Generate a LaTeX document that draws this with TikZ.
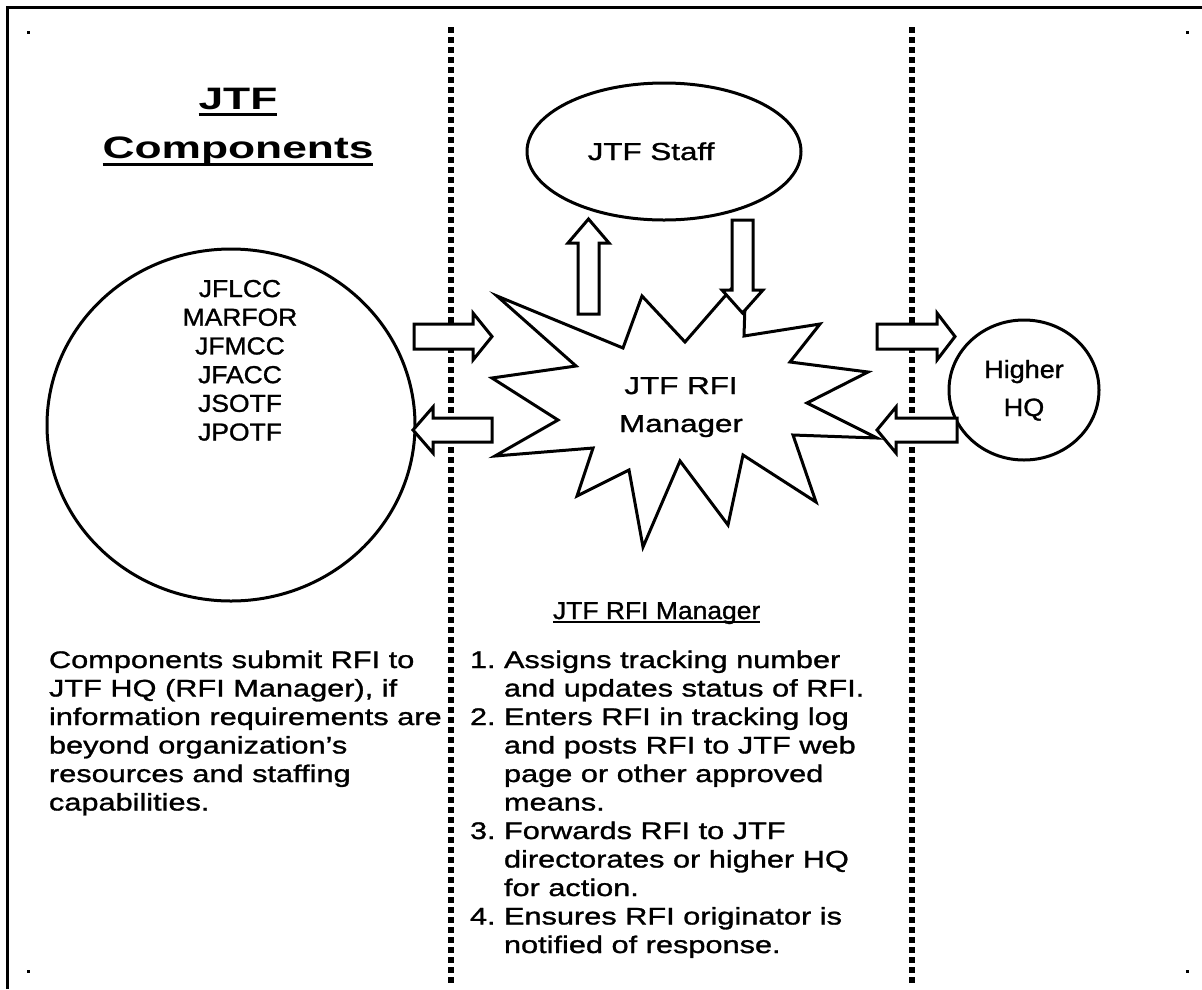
\documentclass[tikz,border=0pt]{standalone}
\usepackage{fontspec}
\setmainfont{Liberation Sans}[FakeStretch=1.28,FakeBold=1.2]
\newfontfamily\narrowfamily{Liberation Sans}[FakeStretch=1.08,FakeBold=1.2]
\newfontfamily\headfamily{Liberation Sans}[FakeStretch=1.43]
\usetikzlibrary{shapes.geometric,calc}
\newcommand\bodysize{\fontsize{24}{28.5}\selectfont}
\newcommand\ovalsize{\narrowfamily\fontsize{24.5}{28.7}\selectfont}
\newcommand\bigsize{\fontsize{24.5}{38}\selectfont}
\newcommand\hqsize{\narrowfamily\fontsize{25}{38}\selectfont}
\newcommand\headsize{\headfamily\bfseries\fontsize{31}{49}\selectfont}

\begin{document}
\begin{tikzpicture}[x=1pt,y=-1pt,
  shapeline/.style={draw=black,line width=3pt,line join=miter,fill=white},
  oval/.style={ellipse,draw=black,line width=3pt,inner sep=0pt},
  blockarrow/.style={draw=black,line width=3pt,line join=miter,fill=white},
  divider/.style={draw=black,line width=5.5pt,dash pattern=on 6pt off 4pt},
  txt/.style={inner sep=0pt,outer sep=0pt,anchor=base},
  txtleft/.style={txt,anchor=base west},
]
\useasboundingbox (0,0) rectangle (1202,989);

% frame edges
\draw[line width=3pt] (7,989) -- (7,7) -- (1202,7);
% corner marks
\foreach \px/\py in {28/32,1187/32,28/971,1187/971}
  \fill (\px-1.5,\py-1.5) rectangle (\px+1.5,\py+1.5);

% column dividers
\coordinate (divAtop) at (451,27);
\coordinate (divAbot) at (451,985);
\coordinate (divBtop) at (912,27);
\coordinate (divBbot) at (912,985);
\draw[divider] (divAtop) -- (divAbot);
\draw[divider] (divBtop) -- (divBbot);

% title
\node[txt,font=\headsize] (ttlA) at (238,109) {JTF};
\node[txt,font=\headsize] (ttlB) at (238,158) {Components};
\draw[line width=3pt] ($(ttlA.base west)+(0,5)$) -- ($(ttlA.base east)+(0,5)$);
\draw[line width=3pt] ($(ttlB.base west)+(0,6)$) -- ($(ttlB.base east)+(0,6)$);

% ovals
\node[oval,minimum width=368pt,minimum height=352pt] (units) at (231,425) {};
\node[oval,minimum width=274pt,minimum height=137pt] (staff) at (664,151.5) {};
\node[oval,minimum width=150pt,minimum height=140pt] (hq) at (1024,390) {};

% RFI manager burst
\draw[shapeline] (497,296) -- (623,348) -- (642,296) -- (685,342) -- (746,272)
  -- (744,336) -- (820,324) -- (790,362) -- (868,372) -- (807,403) -- (877,438)
  -- (793,435) -- (816,502) -- (743,455) -- (728,525) -- (680,461) -- (643,547)
  -- (629,470) -- (577,496) -- (593,448) -- (495,456) -- (558,420) -- (492,378)
  -- (576,366) -- cycle;

% block arrows
\draw[blockarrow] (414,324) -- (473,324) -- (473,313) -- (492,336.5) -- (473,360) -- (473,349) -- (414,349) -- cycle;
\draw[blockarrow] (492,418) -- (433,418) -- (433,407) -- (413,430) -- (433,453) -- (433,442) -- (492,442) -- cycle;
\draw[blockarrow] (877,324) -- (937,324) -- (937,313) -- (955,336.5) -- (937,360) -- (937,349) -- (877,349) -- cycle;
\draw[blockarrow] (957,418) -- (896,418) -- (896,407) -- (877,430) -- (896,453) -- (896,442) -- (957,442) -- cycle;
\draw[blockarrow] (578,314) -- (578,243) -- (568,243) -- (588.5,219) -- (609,243) -- (599,243) -- (599,314) -- cycle;
\draw[blockarrow] (732,220) -- (732,290) -- (722,290) -- (742.5,313) -- (763,290) -- (753,290) -- (753,220) -- cycle;

% labels
\node[txt] (unitstxt) at (240,297) {\parbox[t]{200pt}{\centering\ovalsize
  JFLCC\\MARFOR\\JFMCC\\JFACC\\JSOTF\\JPOTF}};
\node[txt,font=\bigsize] (stafftxt) at (651,160) {JTF Staff};
\node[txt] (mgrtxt) at (681,394) {\parbox[t]{220pt}{\centering\bigsize
  JTF RFI\\Manager}};
\node[txt] (hqtxt) at (1024,378) {\parbox[t]{140pt}{\centering\hqsize
  Higher\\HQ}};

% left note
\node[txtleft] (note) at (49,668) {\parbox[t]{400pt}{\raggedright\bodysize
  Components submit RFI to\\
  JTF HQ (RFI Manager), if\\
  information requirements are\\
  beyond organization’s\\
  resources and staffing\\
  capabilities.}};

% manager duties
\node[txtleft,font=\ovalsize] (hdr) at (553,619) {JTF RFI Manager};
\draw[line width=2pt] ($(hdr.base west)+(0,3)$) -- ($(hdr.base east)+(0,3)$);
\node[txtleft] (duties) at (470,668) {\parbox[t]{440pt}{\raggedright\bodysize
  \makebox[34pt][l]{1.}Assigns tracking number\\
  \hspace*{34pt}and updates status of RFI.\\
  \makebox[34pt][l]{2.}Enters RFI in tracking log\\
  \hspace*{34pt}and posts RFI to JTF web\\
  \hspace*{34pt}page or other approved\\
  \hspace*{34pt}means.\\
  \makebox[34pt][l]{3.}Forwards RFI to JTF\\
  \hspace*{34pt}directorates or higher HQ\\
  \hspace*{34pt}for action.\\
  \makebox[34pt][l]{4.}Ensures RFI originator is\\
  \hspace*{34pt}notified of response.}};
\end{tikzpicture}
\end{document}
